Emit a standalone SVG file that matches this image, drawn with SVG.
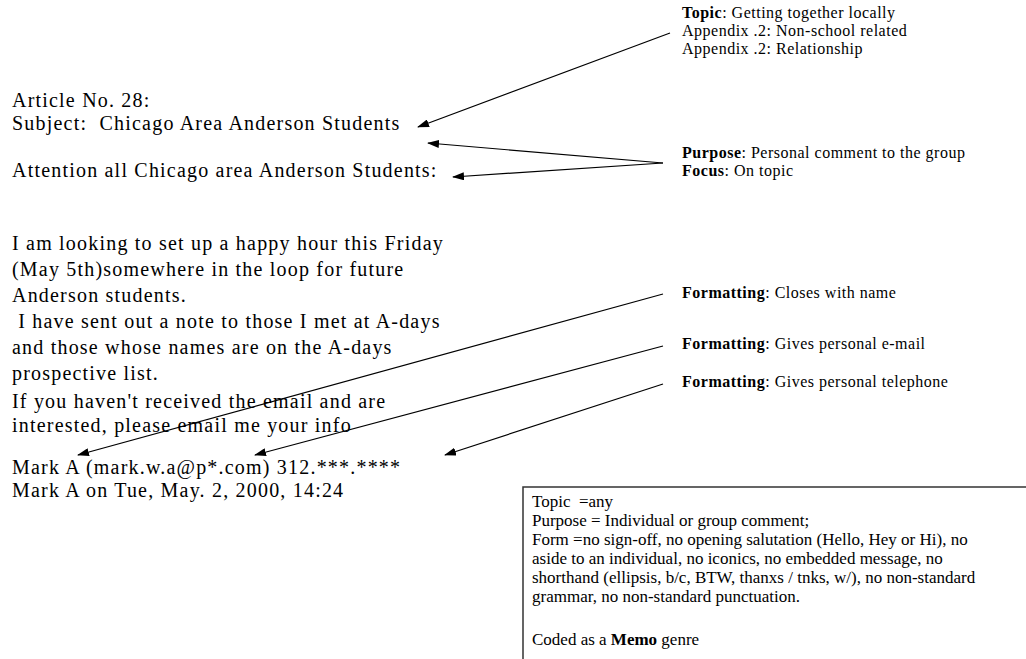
<svg xmlns="http://www.w3.org/2000/svg" width="1026" height="659" viewBox="0 0 1026 659">
<style>
text{font-family:"Liberation Serif","Times New Roman",serif;fill:#000;white-space:pre}
.m{font-size:20px;letter-spacing:1.2px}
.n{font-size:16px;letter-spacing:0.5px}
.b{font-size:17px}
.c{stroke:#000;stroke-width:1.2;fill:none;marker-end:url(#ah)}
</style>
<defs>
<marker id="ah" markerWidth="12" markerHeight="8" refX="11" refY="4" orient="auto" markerUnits="userSpaceOnUse"><path d="M0,0 L12,4 L0,8 z" fill="#000"/></marker>
</defs>
<rect width="1026" height="659" fill="#fff"/>
<g id="post">
<text class="m" x="12" y="107">Article No. 28:</text>
<text class="m" x="12" y="130">Subject:  Chicago Area Anderson Students</text>
<text class="m" x="12" y="177">Attention all Chicago area Anderson Students:</text>
<text class="m" x="12" y="250">I am looking to set up a happy hour this Friday</text>
<text class="m" x="12" y="276">(May 5th)somewhere in the loop for future</text>
<text class="m" x="12" y="302">Anderson students.</text>
<text class="m" x="12" y="328"> I have sent out a note to those I met at A-days</text>
<text class="m" x="12" y="354">and those whose names are on the A-days</text>
<text class="m" x="12" y="380">prospective list.</text>
<text class="m" x="12" y="408">If you haven't received the email and are</text>
<text class="m" x="12" y="432">interested, please email me your info</text>
<text class="m" x="12" y="474">Mark A (mark.w.a@p*.com) 312.***.****</text>
<text class="m" x="12" y="497">Mark A on Tue, May. 2, 2000, 14:24</text>
</g>
<g id="topic-note">
<text class="n" x="682" y="18"><tspan font-weight="bold">Topic</tspan>: Getting together locally</text>
<text class="n" x="682" y="36">Appendix .2: Non-school related</text>
<text class="n" x="682" y="54">Appendix .2: Relationship</text>
</g>
<g id="purpose-note">
<text class="n" x="682" y="158"><tspan font-weight="bold">Purpose</tspan>: Personal comment to the group</text>
<text class="n" x="682" y="176"><tspan font-weight="bold">Focus</tspan>: On topic</text>
</g>
<g id="format-name">
<text class="n" x="682" y="298"><tspan font-weight="bold">Formatting</tspan>: Closes with name</text>
</g>
<g id="format-email">
<text class="n" x="682" y="349"><tspan font-weight="bold">Formatting</tspan>: Gives personal e-mail</text>
</g>
<g id="format-phone">
<text class="n" x="682" y="387"><tspan font-weight="bold">Formatting</tspan>: Gives personal telephone</text>
</g>
<g id="coding-box">
<rect x="523" y="487" width="520" height="200" fill="#fff" stroke="#333" stroke-width="1.5"/>
<text class="b" x="532" y="507">Topic  =any</text>
<text class="b" x="532" y="526">Purpose = Individual or group comment;</text>
<text class="b" x="532" y="545">Form =no sign-off, no opening salutation (Hello, Hey or Hi), no</text>
<text class="b" x="532" y="564">aside to an individual, no iconics, no embedded message, no</text>
<text class="b" x="532" y="583">shorthand (ellipsis, b/c, BTW, thanxs / tnks, w/), no non-standard</text>
<text class="b" x="532" y="602">grammar, no non-standard punctuation.</text>
<text class="b" x="532" y="645">Coded as a <tspan font-weight="bold">Memo</tspan> genre</text>
</g>
<g id="connectors">
<line class="c" x1="670" y1="33" x2="418" y2="127"/>
<line class="c" x1="663" y1="163" x2="428" y2="143"/>
<line class="c" x1="663" y1="163" x2="453" y2="177"/>
<line class="c" x1="663" y1="294" x2="78" y2="455"/>
<line class="c" x1="663" y1="346" x2="255" y2="455"/>
<line class="c" x1="663" y1="384" x2="445" y2="455"/>
</g>
</svg>
